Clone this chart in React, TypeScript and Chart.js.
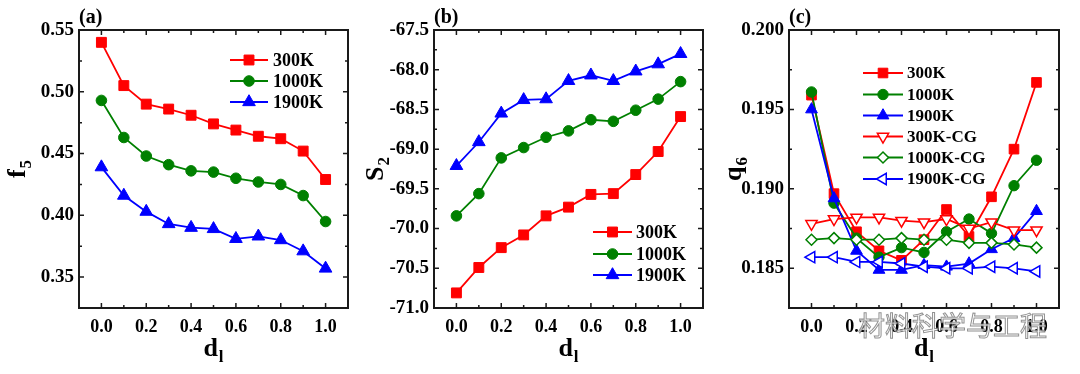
import React, { useEffect, useRef } from 'react';
import { Chart, registerables } from 'chart.js';
import { drawPoint } from 'chart.js/helpers';

Chart.register(...registerables);

const FONT = "'Liberation Serif', 'Times New Roman', Times, serif";

// ---------- data ----------
const dl = [0.0, 0.1, 0.2, 0.3, 0.4, 0.5, 0.6, 0.7, 0.8, 0.9, 1.0];
const xTickValues = [0.0, 0.2, 0.4, 0.6, 0.8, 1.0];
const xMinorValues = [0.1, 0.3, 0.5, 0.7, 0.9];

// (a) f5
const f5_300K = [0.540, 0.505, 0.490, 0.486, 0.481, 0.474, 0.469, 0.464, 0.462, 0.452, 0.429];
const f5_1000K = [0.493, 0.463, 0.448, 0.441, 0.436, 0.435, 0.430, 0.427, 0.425, 0.416, 0.395];
const f5_1900K = [0.439, 0.416, 0.403, 0.393, 0.390, 0.389, 0.381, 0.383, 0.380, 0.371, 0.357];
const f5TickValues = [0.35, 0.40, 0.45, 0.50, 0.55];
const f5MinorValues = [0.325, 0.375, 0.425, 0.475, 0.525];

// (b) S2
const s2_300K = [-70.81, -70.49, -70.24, -70.08, -69.84, -69.73, -69.57, -69.56, -69.32, -69.03, -68.59];
const s2_1000K = [-69.84, -69.56, -69.11, -68.98, -68.85, -68.77, -68.63, -68.65, -68.51, -68.37, -68.15];
const s2_1900K = [-69.21, -68.91, -68.55, -68.38, -68.37, -68.14, -68.07, -68.14, -68.02, -67.93, -67.80];
const s2TickValues = [-71.0, -70.5, -70.0, -69.5, -69.0, -68.5, -68.0, -67.5];
const s2MinorValues = [-70.75, -70.25, -69.75, -69.25, -68.75, -68.25, -67.75];

// (c) q6
const q6_300K = [0.1959, 0.1897, 0.1873, 0.1861, 0.1855, 0.1868, 0.1887, 0.1870, 0.1895, 0.1925, 0.1967];
const q6_1000K = [0.1961, 0.1891, 0.1869, 0.1857, 0.1863, 0.1860, 0.1873, 0.1881, 0.1872, 0.1902, 0.1918];
const q6_1900K = [0.1950, 0.1894, 0.1861, 0.1849, 0.1849, 0.1852, 0.1851, 0.1853, 0.1862, 0.1869, 0.1886];
const q6_300KCG = [0.1878, 0.1881, 0.1882, 0.1882, 0.1880, 0.1879, 0.1881, 0.1875, 0.1879, 0.1874, 0.1874];
const q6_1000KCG = [0.1868, 0.1869, 0.1868, 0.1868, 0.1869, 0.1868, 0.1868, 0.1866, 0.1866, 0.1865, 0.1863];
const q6_1900KCG = [0.1857, 0.1857, 0.1854, 0.1854, 0.1853, 0.1851, 0.1850, 0.1850, 0.1851, 0.1850, 0.1848];
const q6TickValues = [0.185, 0.190, 0.195, 0.200];
const q6MinorValues = [0.1825, 0.1875, 0.1925, 0.1975];

const RED = '#ff0000';
const GREEN = '#008000';
const BLUE = '#0000ff';

type Series = {
  label: string;
  values: number[];
  color: string;
  pointStyle: string;
  rotation: number;
  filled: boolean;
  radius: number;
};

type PanelSpec = {
  left: number;
  tag: string;
  yMain: string;
  ySub: string;
  yMin: number;
  yMax: number;
  yTicks: number[];
  yMinor: number[];
  yDigits: number;
  series: Series[];
  pad: { left: number; right: number; top: number; bottom: number };
  yTitleX: number;
  legend: { x0: number; x1: number; tx: number; rows: number[]; size: number };
};

const panels: PanelSpec[] = [
  {
    left: 0,
    tag: '(a)',
    yMain: 'f',
    ySub: '5',
    yMin: 0.325,
    yMax: 0.55,
    yTicks: f5TickValues,
    yMinor: f5MinorValues,
    yDigits: 2,
    series: [
      { label: '300K', values: f5_300K, color: RED, pointStyle: 'rect', rotation: 0, filled: true, radius: 7 },
      { label: '1000K', values: f5_1000K, color: GREEN, pointStyle: 'circle', rotation: 0, filled: true, radius: 5.3 },
      { label: '1900K', values: f5_1900K, color: BLUE, pointStyle: 'triangle', rotation: 0, filled: true, radius: 7.3 },
    ],
    pad: { left: 19, right: 12, top: 30, bottom: 26 },
    yTitleX: 16,
    legend: { x0: 230, x1: 268, tx: 273, rows: [60, 81, 102], size: 18 },
  },
  {
    left: 360,
    tag: '(b)',
    yMain: 'S',
    ySub: '2',
    yMin: -71.0,
    yMax: -67.5,
    yTicks: s2TickValues,
    yMinor: s2MinorValues,
    yDigits: 1,
    series: [
      { label: '300K', values: s2_300K, color: RED, pointStyle: 'rect', rotation: 0, filled: true, radius: 7 },
      { label: '1000K', values: s2_1000K, color: GREEN, pointStyle: 'circle', rotation: 0, filled: true, radius: 5.3 },
      { label: '1900K', values: s2_1900K, color: BLUE, pointStyle: 'triangle', rotation: 0, filled: true, radius: 7.3 },
    ],
    pad: { left: 14, right: 17, top: 30, bottom: 26 },
    yTitleX: 14,
    legend: { x0: 233, x1: 272, tx: 276, rows: [232, 254, 275], size: 18 },
  },
  {
    left: 720,
    tag: '(c)',
    yMain: 'q',
    ySub: '6',
    yMin: 0.1825,
    yMax: 0.2,
    yTicks: q6TickValues,
    yMinor: q6MinorValues,
    yDigits: 3,
    series: [
      { label: '300K', values: q6_300K, color: RED, pointStyle: 'rect', rotation: 0, filled: true, radius: 6.8 },
      { label: '1000K', values: q6_1000K, color: GREEN, pointStyle: 'circle', rotation: 0, filled: true, radius: 5.2 },
      { label: '1900K', values: q6_1900K, color: BLUE, pointStyle: 'triangle', rotation: 0, filled: true, radius: 6.8 },
      { label: '300K-CG', values: q6_300KCG, color: RED, pointStyle: 'triangle', rotation: 180, filled: false, radius: 6.5 },
      { label: '1000K-CG', values: q6_1000KCG, color: GREEN, pointStyle: 'rectRot', rotation: 0, filled: false, radius: 5.5 },
      { label: '1900K-CG', values: q6_1900KCG, color: BLUE, pointStyle: 'triangle', rotation: -90, filled: false, radius: 6.5 },
    ],
    pad: { left: 9, right: 21, top: 30, bottom: 26 },
    yTitleX: 12,
    legend: { x0: 143, x1: 183, tx: 187, rows: [73, 94.5, 115.5, 136.5, 157.5, 179], size: 17 },
  },
];

function drawSubText(
  ctx: CanvasRenderingContext2D,
  main: string,
  sub: string,
  x: number,
  y: number,
  rot: number,
  mainSize: number,
  subSize: number
) {
  ctx.save();
  ctx.translate(x, y);
  ctx.rotate(rot);
  ctx.fillStyle = '#000';
  ctx.textAlign = 'left';
  ctx.textBaseline = 'alphabetic';
  ctx.font = `bold ${mainSize}px ${FONT}`;
  const w1 = ctx.measureText(main).width;
  ctx.font = `bold ${subSize}px ${FONT}`;
  const w2 = ctx.measureText(sub).width;
  const total = w1 + w2 + 1;
  ctx.font = `bold ${mainSize}px ${FONT}`;
  ctx.fillText(main, -total / 2, mainSize * 0.33);
  ctx.font = `bold ${subSize}px ${FONT}`;
  ctx.fillText(sub, -total / 2 + w1 + 1, mainSize * 0.33 + subSize * 0.38);
  ctx.restore();
}

function makeOverlayPlugin(spec: PanelSpec) {
  return {
    id: 'overlay' + spec.tag,
    afterDraw(chart: any) {
      const ctx: CanvasRenderingContext2D = chart.ctx;
      const { left, right, top, bottom } = chart.chartArea;
      const xs = chart.scales.x;
      const ys = chart.scales.y;
      ctx.save();
      // frame
      ctx.strokeStyle = '#1a1a1a';
      ctx.lineWidth = 2;
      ctx.strokeRect(left, top, right - left, bottom - top);
      // ticks
      ctx.lineWidth = 1.5;
      ctx.beginPath();
      const tick = (vals: number[], len: number) => {
        vals.forEach((v) => {
          const px = xs.getPixelForValue(v);
          ctx.moveTo(px, bottom);
          ctx.lineTo(px, bottom - len);
          ctx.moveTo(px, top);
          ctx.lineTo(px, top + len);
        });
      };
      const ytick = (vals: number[], len: number) => {
        vals.forEach((v) => {
          const py = ys.getPixelForValue(v);
          ctx.moveTo(left, py);
          ctx.lineTo(left + len, py);
          ctx.moveTo(right, py);
          ctx.lineTo(right - len, py);
        });
      };
      tick(xTickValues, 5);
      tick(xMinorValues, 3);
      ytick(spec.yTicks, 5);
      ytick(spec.yMinor, 3);
      ctx.stroke();

      // panel tag
      ctx.fillStyle = '#000';
      ctx.font = `bold 20px ${FONT}`;
      ctx.textAlign = 'left';
      ctx.textBaseline = 'alphabetic';
      ctx.fillText(spec.tag, left, 23);

      // axis titles
      drawSubText(ctx, 'd', 'l', (left + right) / 2, 347, 0, 26, 17);
      drawSubText(ctx, spec.yMain, spec.ySub, spec.yTitleX, (top + bottom) / 2, -Math.PI / 2, 26, 17);

      // legend
      const lg = spec.legend;
      spec.series.forEach((s, i) => {
        const y = lg.rows[i];
        ctx.strokeStyle = s.color;
        ctx.lineWidth = 1.8;
        ctx.beginPath();
        ctx.moveTo(lg.x0, y);
        ctx.lineTo(lg.x1, y);
        ctx.stroke();
        ctx.fillStyle = s.filled ? s.color : '#ffffff';
        ctx.strokeStyle = s.color;
        ctx.lineWidth = s.filled ? 1 : 1.5;
        drawPoint(ctx, { pointStyle: s.pointStyle as any, rotation: s.rotation, radius: s.radius, borderWidth: ctx.lineWidth }, (lg.x0 + lg.x1) / 2, y);
        ctx.fillStyle = '#000';
        ctx.font = `bold ${lg.size}px ${FONT}`;
        ctx.textBaseline = 'middle';
        ctx.fillText(s.label, lg.tx, y + 1);
      });
      ctx.restore();
    },
  };
}

function Panel({ spec }: { spec: PanelSpec }) {
  const ref = useRef<HTMLCanvasElement | null>(null);
  useEffect(() => {
    if (!ref.current) return;
    const n = spec.series.length;
    const chart = new Chart(ref.current, {
      type: 'line',
      data: {
        datasets: spec.series.map((s, i) => ({
          label: s.label,
          data: dl.map((x, k) => ({ x, y: s.values[k] })),
          borderColor: s.color,
          backgroundColor: s.color,
          borderWidth: 1.8,
          pointStyle: s.pointStyle as any,
          pointRotation: s.rotation,
          pointRadius: s.radius,
          pointBackgroundColor: s.filled ? s.color : '#ffffff',
          pointBorderColor: s.color,
          pointBorderWidth: s.filled ? 1 : 1.5,
          tension: 0,
          fill: false,
          order: n - i,
        })),
      },
      options: {
        responsive: false,
        animation: false,
        devicePixelRatio: 1,
        events: [],
        layout: { padding: spec.pad },
        plugins: { legend: { display: false }, tooltip: { enabled: false } },
        scales: {
          x: {
            type: 'linear',
            min: -0.1,
            max: 1.1,
            grid: { display: false, drawTicks: false },
            border: { display: false },
            afterBuildTicks: (s: any) => {
              s.ticks = xTickValues.map((v) => ({ value: v }));
            },
            afterFit: (s: any) => {
              s.height = 40;
            },
            ticks: {
              padding: 9,
              color: '#000',
              maxRotation: 0,
              autoSkip: false,
              font: { family: FONT, size: 18, weight: 'bold' },
              callback: (v: any) => Number(v).toFixed(1),
            },
          },
          y: {
            type: 'linear',
            min: spec.yMin,
            max: spec.yMax,
            grid: { display: false, drawTicks: false },
            border: { display: false },
            afterBuildTicks: (s: any) => {
              s.ticks = spec.yTicks.map((v) => ({ value: v }));
            },
            afterFit: (s: any) => {
              s.width = 60;
            },
            ticks: {
              padding: 5,
              color: '#000',
              autoSkip: false,
              font: { family: FONT, size: 19, weight: 'bold' },
              callback: (v: any) => Number(v).toFixed(spec.yDigits),
            },
          },
        },
      },
      plugins: [makeOverlayPlugin(spec)],
    } as any);
    return () => chart.destroy();
  }, [spec]);
  return (
    <canvas
      ref={ref}
      width={360}
      height={374}
      style={{ position: 'absolute', left: spec.left, top: 0, width: 360, height: 374 }}
    />
  );
}

export default function App() {
  return (
    <div style={{ position: 'absolute', left: 0, top: 0, width: 1080, height: 374, background: '#ffffff', overflow: 'hidden' }}>
      {panels.map((p) => (
        <Panel key={p.tag} spec={p} />
      ))}
      <div
        style={{
          position: 'absolute',
          left: 858,
          top: 308,
          fontFamily: "'Noto Sans CJK SC', sans-serif",
          fontSize: 27,
          lineHeight: '34px',
          color: 'rgba(255,255,255,0.75)',
          WebkitTextStroke: '1px rgba(110,110,110,0.75)',
          letterSpacing: 0,
          whiteSpace: 'nowrap',
        }}
      >
        材料科学与工程
      </div>
    </div>
  );
}
